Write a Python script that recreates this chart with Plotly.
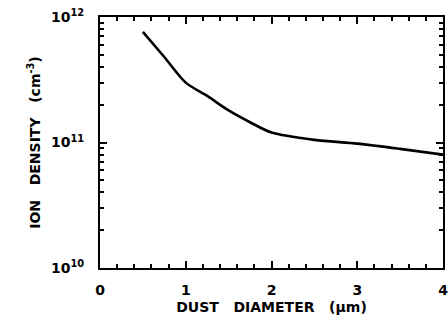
import plotly.graph_objects as go

diameter = [0.5, 0.75, 1.0, 1.25, 1.5, 1.75, 2.0, 2.5, 3.0, 3.5, 4.0]
ion_density = [7.6e11, 4.8e11, 3.0e11, 2.35e11, 1.8e11, 1.45e11, 1.2e11, 1.05e11, 9.8e10, 8.9e10, 8.0e10]

x_ticks = [0, 1, 2, 3, 4]
x_tick_text = ["<b>0</b>", "<b>1</b>", "<b>2</b>", "<b>3</b>", "<b>4</b>"]
y_ticks = [1e10, 1e11, 1e12]
y_tick_text = ["<b>10<sup>10</sup></b>", "<b>10<sup>11</sup></b>", "<b>10<sup>12</sup></b>"]
y_minor = [m * 10 ** e for e in (10, 11) for m in range(2, 10)]
x_minor = [round(i * 0.2, 1) for i in range(21)]

fig = go.Figure()
fig.add_trace(go.Scatter(x=diameter, y=ion_density, mode="lines",
                         line=dict(color="black", width=2.6, shape="spline", smoothing=0.8)))

font = dict(family="DejaVu Sans, Liberation Sans, sans-serif", color="black", size=14)
fig.update_layout(
    width=448, height=327,
    margin=dict(l=100, r=5, t=17, b=59),
    paper_bgcolor="white", plot_bgcolor="white",
    showlegend=False, font=font,
    xaxis=dict(range=[0, 4], tickmode="array", tickvals=x_ticks, ticktext=x_tick_text,
               ticks="inside", ticklen=7, tickwidth=2, tickcolor="black",
               showline=True, linecolor="black", linewidth=2, mirror="ticks",
               showgrid=False, zeroline=False, automargin=False,
               ticklabelstandoff=8, ticklabeloverflow="allow",
               minor=dict(tickmode="array", tickvals=x_minor, ticks="inside", ticklen=4,
                          tickwidth=2, tickcolor="black", showgrid=False),
               title=dict(text="<b>DUST   DIAMETER   (μm)</b>", font=dict(size=14), standoff=5),
               tickfont=dict(size=14)),
    yaxis=dict(type="log", range=[10, 12], tickmode="array", tickvals=y_ticks, ticktext=y_tick_text,
               ticks="inside", ticklen=7, tickwidth=2, tickcolor="black",
               showline=True, linecolor="black", linewidth=2, mirror="ticks",
               showgrid=False, zeroline=False, automargin=False,
               ticklabelstandoff=11, ticklabeloverflow="allow",
               minor=dict(tickmode="array", tickvals=y_minor, ticks="inside", ticklen=4,
                          tickwidth=2, tickcolor="black", showgrid=False),
               title=dict(text="<b>ION   DENSITY   (cm<sup>-3</sup>)</b>", font=dict(size=14), standoff=7),
               tickfont=dict(size=14)),
)
fig.write_html("out.html", config={"displayModeBar": False},
               post_script="document.body.style.margin='0';")
